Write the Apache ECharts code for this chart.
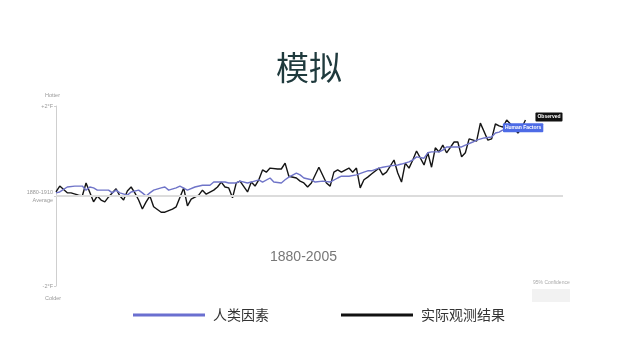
<!DOCTYPE html>
<html>
<head>
<meta charset="utf-8">
<script src="https://cdn.jsdelivr.net/npm/echarts@6/dist/echarts.min.js"></script>
<style>
html,body{margin:0;padding:0;background:#fff;}
#chart{width:640px;height:360px;}
</style>
</head>
<body>
<div id="chart"></div>
<script>
// Observed (black) — years and anomaly (°F vs 1880-1910 average)
var observedYears = [1880,1881,1883,1884,1886,1887,1888,1890,1891,1892,1893,1894,1896,1897,1898,1899,1900,1901,1902,1903,1904,1905,1906,1908,1909,1911,1912,1914,1915,1916,1918,1919,1920,1922,1923,1924,1925,1926,1927,1928,1929,1931,1932,1933,1934,1935,1936,1937,1939,1940,1941,1942,1944,1945,1946,1947,1948,1950,1952,1953,1954,1955,1956,1958,1959,1960,1961,1962,1963,1964,1966,1967,1968,1970,1971,1972,1973,1974,1975,1976,1978,1979,1980,1981,1982,1983,1984,1986,1987,1988,1989,1990,1992,1993,1995,1996,1997,1998,1999,2000,2002,2003,2004,2005];
var observedValues = [0.09,0.22,0.07,0.07,0.02,0.00,0.29,-0.13,0.00,-0.09,-0.13,-0.02,0.16,0.00,-0.09,0.11,0.20,0.07,-0.09,-0.29,-0.13,0.00,-0.24,-0.36,-0.36,-0.29,-0.24,0.18,-0.22,-0.07,0.02,0.13,0.04,0.13,0.20,0.31,0.20,0.18,-0.04,0.29,0.33,0.09,0.31,0.22,0.36,0.58,0.53,0.62,0.60,0.60,0.73,0.44,0.40,0.33,0.29,0.20,0.29,0.64,0.29,0.22,0.53,0.58,0.53,0.62,0.53,0.62,0.18,0.36,0.42,0.49,0.62,0.47,0.53,0.80,0.51,0.31,0.73,0.62,0.80,1.00,0.69,0.96,0.64,1.07,0.98,1.13,0.96,1.20,1.20,0.87,0.96,1.27,1.22,1.62,1.24,1.27,1.60,1.56,1.53,1.69,1.51,1.40,1.51,1.69];

// Human factors model (blue)
var modelYears = [1880,1881,1883,1885,1887,1888,1889,1890,1891,1892,1894,1895,1896,1897,1899,1900,1902,1903,1904,1905,1906,1908,1909,1910,1912,1913,1915,1917,1919,1921,1922,1924,1925,1926,1928,1929,1931,1932,1934,1935,1937,1938,1940,1941,1942,1944,1945,1946,1948,1949,1951,1953,1955,1956,1958,1960,1962,1963,1964,1966,1967,1969,1971,1972,1974,1975,1976,1978,1979,1980,1982,1983,1984,1986,1988,1989,1991,1992,1994,1996,1997,1998,1999];
var modelValues = [0.07,0.09,0.20,0.22,0.22,0.13,0.20,0.18,0.13,0.13,0.13,0.07,0.13,0.07,0.02,0.09,0.13,0.07,0.00,0.07,0.13,0.18,0.20,0.13,0.18,0.22,0.13,0.20,0.24,0.24,0.31,0.31,0.31,0.29,0.29,0.33,0.29,0.31,0.36,0.31,0.40,0.31,0.29,0.36,0.42,0.51,0.47,0.40,0.36,0.31,0.33,0.31,0.40,0.44,0.44,0.47,0.53,0.56,0.56,0.62,0.64,0.67,0.69,0.71,0.76,0.80,0.87,0.84,0.96,0.98,0.98,1.02,1.09,1.09,1.09,1.13,1.20,1.24,1.29,1.31,1.40,1.42,1.47];

var yTicks = {"2": "+2°F", "0": "1880-1910\nAverage", "-2": "-2°F"};
var legendNames = ["人类因素", "实际观测结果"];

function pairs(xs, ys){ return xs.map(function(x,i){ return [x, ys[i]]; }); }

var chart = echarts.init(document.getElementById('chart'), null, {renderer:'canvas'});
var FONT = '"Noto Sans CJK SC","Noto Sans",sans-serif';
chart.setOption({
  animation: false,
  backgroundColor: '#fff',
  title: {
    text: '模拟', left: 271, top: 46,
    textStyle: {fontFamily: FONT, fontSize: 33, fontWeight: 'normal', color: '#1f3a3d'}
  },
  legend: {
    left: 128, top: 303,
    icon: 'rect', itemWidth: 72, itemHeight: 3, itemGap: 72,
    data: legendNames,
    textStyle: {fontFamily: FONT, fontSize: 14, color: '#333', padding: [0,0,0,3]}
  },
  grid: {left: 56, right: 77, top: 106, bottom: 74},
  xAxis: {type: 'value', min: 1880, max: 2015, show: false},
  yAxis: {
    type: 'value', min: -2, max: 2, interval: 2,
    axisLine: {show: true, lineStyle: {color: '#cfcfcf', width: 1}},
    axisTick: {show: true, length: 2, lineStyle: {color: '#cfcfcf'}},
    splitLine: {show: false},
    axisLabel: {
      fontFamily: 'Liberation Sans, Arial, sans-serif', fontSize: 5.5, color: '#999', margin: 3, lineHeight: 8,
      formatter: function(v){ return yTicks[String(v)] || ''; }
    }
  },
  graphic: [
    {type:'text', left: 45, top: 92, style:{text:'Hotter', fontSize:5.5, fill:'#999', fontFamily:'Liberation Sans, sans-serif'}},
    {type:'text', left: 45, top: 295, style:{text:'Colder', fontSize:5.5, fill:'#999', fontFamily:'Liberation Sans, sans-serif'}},
    {type:'text', left: 270, top: 250, style:{text:'1880-2005', fontSize:14, fill:'#777', fontFamily:'Liberation Sans, Arial, sans-serif'}},
    {type:'text', left: 533, top: 280, style:{text:'95% Confidence', fontSize:5, fill:'#aaa', fontFamily:'Liberation Sans, sans-serif'}},
    {type:'rect', left: 532, top: 289, shape:{width:38, height:13}, style:{fill:'#f2f2f2'}}
  ],
  series: [
    {
      name: '实际观测结果', type: 'line', data: pairs(observedYears, observedValues),
      showSymbol: false, lineStyle: {color: '#151515', width: 1.4}, itemStyle: {color: '#111'},
      z: 3,
      markLine: {
        silent: true, symbol: 'none', label: {show: false},
        lineStyle: {color: '#dcdcdc', width: 2, type: 'solid'},
        data: [{yAxis: 0}]
      },
      endLabel: {
        show: true, formatter: 'Observed', distance: 10, offset: [0,-3],
        color: '#fff', backgroundColor: '#111', fontSize: 5, fontWeight: 'bold',
        padding: [2,2], borderRadius: 1, fontFamily: 'Liberation Sans, sans-serif'
      }
    },
    {
      name: '人类因素', type: 'line', data: pairs(modelYears, modelValues),
      showSymbol: false, lineStyle: {color: '#6f74c8', width: 1.4}, itemStyle: {color: '#6a6fd0'},
      z: 4,
      endLabel: {
        show: true, formatter: 'Human Factors', distance: 0, offset: [0,-2],
        color: '#fff', backgroundColor: '#4d6be6', fontSize: 5, fontWeight: 'bold',
        padding: [2,2], borderRadius: 1, fontFamily: 'Liberation Sans, sans-serif'
      }
    }
  ]
});
</script>
</body>
</html>
